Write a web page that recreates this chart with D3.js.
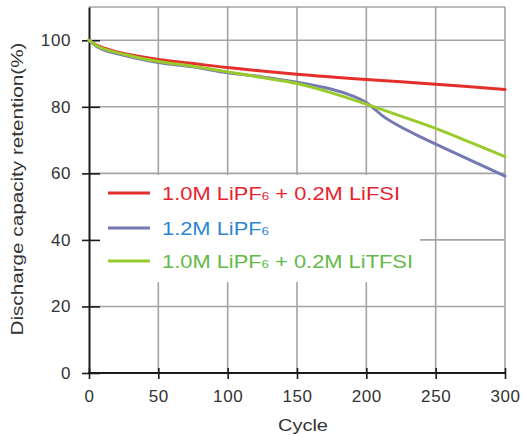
<!DOCTYPE html>
<html>
<head>
<meta charset="utf-8">
<script src="https://cdn.jsdelivr.net/npm/d3@7/dist/d3.min.js"></script>
<style>
  html, body { margin: 0; padding: 0; background: #fff; }
  svg { display: block; }
  text { font-family: "Liberation Sans", Arial, sans-serif; }
</style>
</head>
<body>
<svg id="chart" width="523" height="437"></svg>
<script>
// ---- data ----
const xTicks = [0, 50, 100, 150, 200, 250, 300];
const yTicks = [0, 20, 40, 60, 80, 100];

const redCycles   = [0, 5, 10, 25, 50, 75, 100, 150, 200, 250, 300];
const redValues   = [100, 98.6, 97.8, 96.0, 94.2, 93.0, 91.8, 89.8, 88.2, 86.8, 85.2];

const blueCycles  = [0, 5, 10, 25, 50, 75, 100, 125, 150, 175, 190, 200, 206, 212, 222, 235, 250, 275, 300];
const blueValues  = [100, 98.3, 97.2, 95.5, 93.3, 92.0, 90.2, 89.0, 87.4, 85.3, 83.3, 81.3, 79.3, 77.2, 74.6, 71.8, 68.8, 64.0, 59.2];

const greenCycles = [0, 5, 10, 25, 50, 75, 100, 125, 150, 175, 200, 225, 250, 275, 300];
const greenValues = [100, 98.5, 97.5, 95.8, 93.6, 92.2, 90.5, 88.8, 87.0, 84.2, 80.8, 77.2, 73.5, 69.3, 65.0];

const seriesNames  = ["1.0M LiPF", "1.2M LiPF", "1.0M LiPF"];
const seriesSubs   = ["6", "6", "6"];
const seriesTails  = [" + 0.2M LiFSI", "", " + 0.2M LiTFSI"];
const lineColors   = ["#e42f2b", "#7579b2", "#9acb2c"];
const textColors   = ["#e8232f", "#2f86d0", "#63b947"];

const xLabel = "Cycle";
const yLabel = "Discharge capacity retention(%)";

// ---- layout ----
const svg = d3.select("#chart");
const x = d3.scaleLinear().domain([0, 300]).range([89, 505]);
const y = d3.scaleLinear().domain([0, 110]).range([373, 7]);

const gridColor = "#a4a4a4";

// grid verticals
svg.append("g").selectAll("line").data(xTicks.slice(1)).join("line")
  .attr("x1", d => x(d)).attr("x2", d => x(d))
  .attr("y1", y(110)).attr("y2", y(0))
  .attr("stroke", gridColor).attr("stroke-width", 1.6);
// grid horizontals
svg.append("g").selectAll("line").data(yTicks.slice(1).concat([110])).join("line")
  .attr("x1", x(0)).attr("x2", x(300))
  .attr("y1", d => y(d)).attr("y2", d => y(d))
  .attr("stroke", gridColor).attr("stroke-width", 1.6);

// legend background
const leg = svg.append("g");
leg.append("rect").attr("x", 91).attr("y", 175).attr("width", 329).attr("height", 107).attr("fill", "#fff");

// axes
const yAxis = svg.append("g").attr("transform", `translate(${x(0)},0)`)
  .call(d3.axisLeft(y).tickValues(yTicks).tickSizeInner(7).tickSizeOuter(0).tickPadding(11));
const xAxis = svg.append("g").attr("transform", `translate(0,${y(0)})`)
  .call(d3.axisBottom(x).tickValues(xTicks).tickSizeInner(6).tickSizeOuter(0).tickPadding(11));

[yAxis, xAxis].forEach(g => {
  g.select(".domain").attr("stroke", "#1a1a1a").attr("stroke-width", 2);
  g.selectAll(".tick line").attr("stroke", "#1a1a1a").attr("stroke-width", 1.6);
  g.selectAll(".tick text").attr("fill", "#333").attr("font-size", 17).attr("letter-spacing", 0.6);
});
yAxis.selectAll(".tick line").attr("x1", 11);
xAxis.selectAll(".tick line").attr("y1", -5);
xAxis.selectAll(".tick text").attr("y", 17);
xAxis.select(".domain").attr("d", `M${x(0) - 1},0H${x(300) + 1}`);

// axis titles
svg.append("text").attr("x", 303).attr("y", 431).attr("text-anchor", "middle")
  .attr("font-size", 17).attr("fill", "#333").attr("textLength", 50).attr("lengthAdjust", "spacingAndGlyphs")
  .text(xLabel);
svg.append("text").attr("transform", "translate(23,189) rotate(-90)").attr("text-anchor", "middle")
  .attr("font-size", 16).attr("fill", "#333").attr("textLength", 293).attr("lengthAdjust", "spacingAndGlyphs")
  .text(yLabel);

// lines
const line = d3.line().x(d => x(d[0])).y(d => y(d[1])).curve(d3.curveCatmullRom.alpha(0.5));
const series = [
  d3.zip(redCycles, redValues),
  d3.zip(blueCycles, blueValues),
  d3.zip(greenCycles, greenValues)
];
series.forEach((s, i) => {
  svg.append("path").datum(s).attr("d", line)
    .attr("fill", "none").attr("stroke", lineColors[i]).attr("stroke-width", 3)
    .attr("stroke-linecap", "round");
});

// legend entries
const legY = [193, 228, 261];
const legLen = [238, 107, 251];
seriesNames.forEach((n, i) => {
  leg.append("line").attr("x1", 108).attr("x2", 150).attr("y1", legY[i]).attr("y2", legY[i])
    .attr("stroke", lineColors[i]).attr("stroke-width", 3);
  const t = leg.append("text").attr("x", 162).attr("y", legY[i] + 7)
    .attr("font-size", 18).attr("fill", textColors[i])
    .attr("textLength", legLen[i]).attr("lengthAdjust", "spacingAndGlyphs");
  t.append("tspan").text(n);
  t.append("tspan").attr("font-size", 11).text(seriesSubs[i]);
  if (seriesTails[i]) t.append("tspan").text(seriesTails[i]);
});
</script>
</body>
</html>
